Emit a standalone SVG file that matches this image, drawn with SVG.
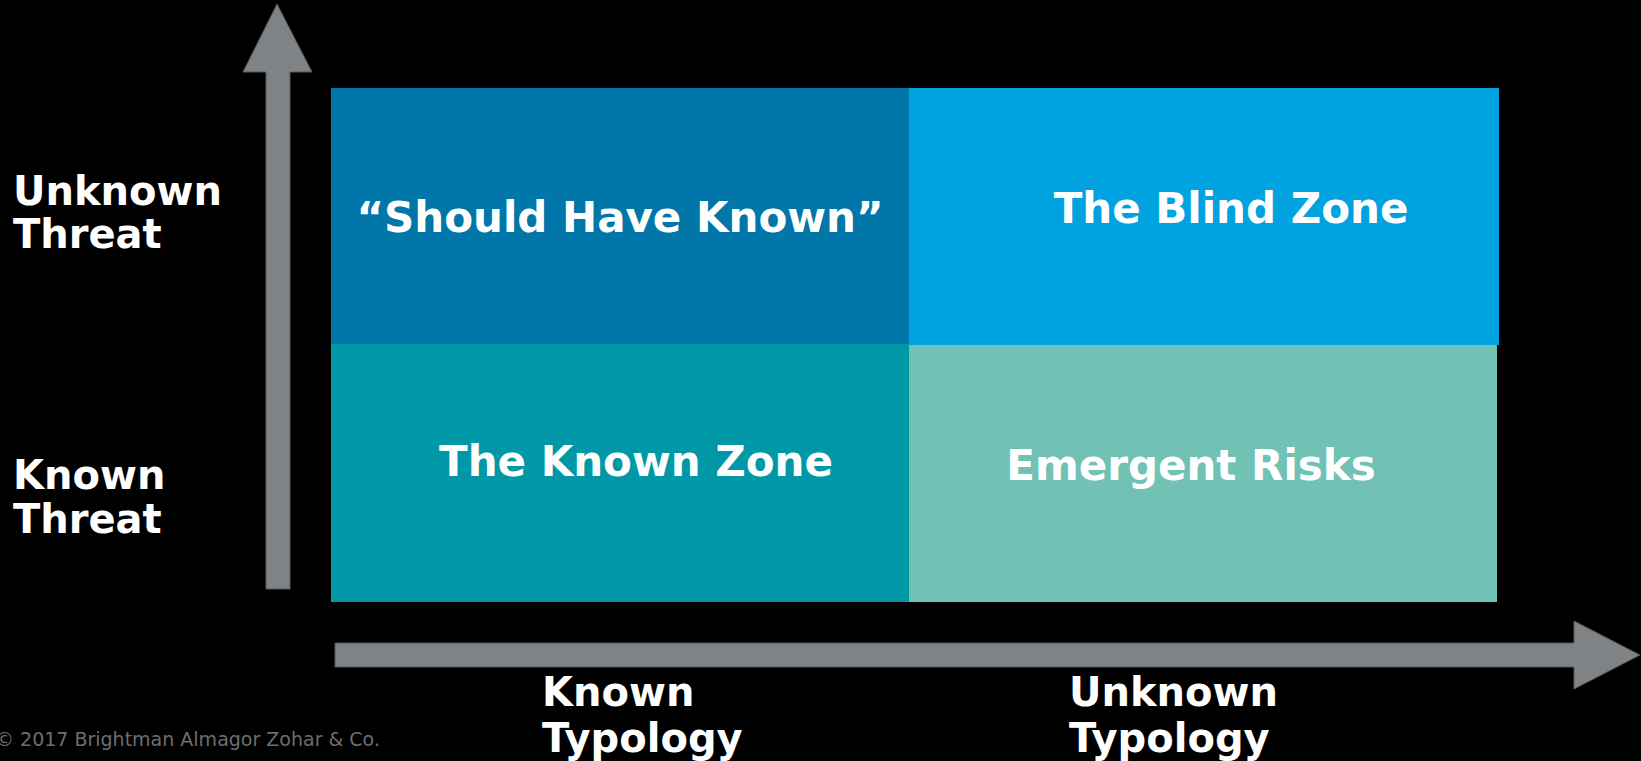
<svg xmlns="http://www.w3.org/2000/svg" width="1641" height="761" viewBox="0 0 1641 761">
<style>
.lbl{font-family:"DejaVu Sans",Verdana,sans-serif;font-weight:bold;fill:#ffffff;font-size:40px}
.q{font-family:"DejaVu Sans",Verdana,sans-serif;font-weight:bold;fill:#ffffff;font-size:42px;text-anchor:middle}
.arrow{fill:#7f8385;stroke:#55595b;stroke-width:1}
.copy{font-family:"DejaVu Sans",Verdana,sans-serif;fill:#6e6e6e;font-size:19px}
</style>
<rect width="1641" height="761" fill="#000000"/>
<g id="connectors">
<polygon class="arrow" points="266,589 266,72 243,72 277,4 312,72 290,72 290,589"/>
<polygon class="arrow" points="335,643 1574,643 1574,621 1640,655 1574,689 1574,667 335,667"/>
</g>
<g id="q-should"><rect x="331" y="88" width="578" height="256" fill="#0077a8"/><text class="q" x="620" y="232">“Should Have Known”</text></g>
<g id="q-blind"><rect x="909" y="88" width="590" height="257" fill="#00a3e0"/><text class="q" x="1231" y="223">The Blind Zone</text></g>
<g id="q-known"><rect x="331" y="344" width="578" height="258" fill="#0097a7"/><text class="q" x="636" y="476">The Known Zone</text></g>
<g id="q-emergent"><rect x="909" y="345" width="588" height="257" fill="#71c2b4"/><text class="q" x="1191" y="480">Emergent Risks</text></g>
<g id="axis-labels">
<text class="lbl" x="13" y="205">Unknown</text><text class="lbl" x="13" y="248">Threat</text>
<text class="lbl" x="13" y="489">Known</text><text class="lbl" x="13" y="533">Threat</text>
<text class="lbl" x="542" y="706">Known</text><text class="lbl" x="542" y="752">Typology</text>
<text class="lbl" x="1069" y="706">Unknown</text><text class="lbl" x="1069" y="752">Typology</text>
</g>
<text class="copy" x="-5" y="746">© 2017 Brightman Almagor Zohar &amp; Co.</text>
</svg>
